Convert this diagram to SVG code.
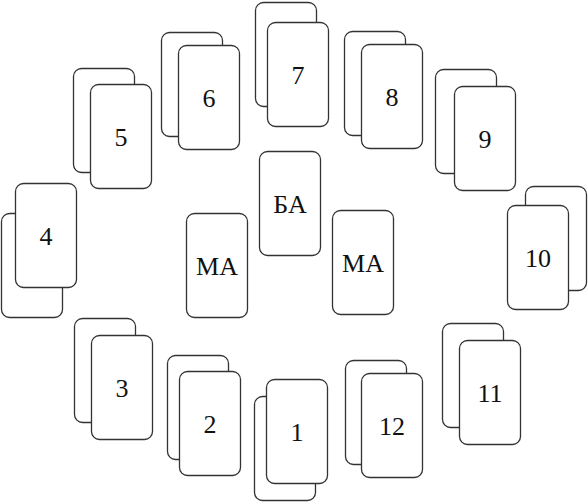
<svg xmlns="http://www.w3.org/2000/svg" width="588" height="503" viewBox="0 0 588 503">
<style>
.c{fill:#fff;stroke:#333;stroke-width:1.3}
text{font-family:'Liberation Serif','Times New Roman',serif;font-size:26px;fill:#111;text-anchor:middle}
</style>
<defs>
<rect id="card" class="c" width="61" height="104" rx="8" ry="8"/>
</defs>
<rect width="588" height="503" fill="#fff"/>
<g id="n1"><use href="#card" x="254.5" y="396.5"/><use href="#card" x="266.5" y="379.5"/><text x="297" y="441">1</text></g>
<g id="n2"><use href="#card" x="167.5" y="355.5"/><use href="#card" x="179.5" y="371.5"/><text x="210" y="433">2</text></g>
<g id="n3"><use href="#card" x="74.5" y="318.5"/><use href="#card" x="91.5" y="335.5"/><text x="122" y="397">3</text></g>
<g id="n4"><use href="#card" x="1.5" y="213.5"/><use href="#card" x="15.5" y="183.5"/><text x="46" y="245">4</text></g>
<g id="n5"><use href="#card" x="73.5" y="68.5"/><use href="#card" x="90.5" y="84.5"/><text x="121" y="146">5</text></g>
<g id="n6"><use href="#card" x="161.5" y="32.5"/><use href="#card" x="178.5" y="45.5"/><text x="209" y="107">6</text></g>
<g id="n7"><use href="#card" x="255.5" y="2.5"/><use href="#card" x="267.5" y="22.5"/><text x="298" y="84">7</text></g>
<g id="n8"><use href="#card" x="344.5" y="31.5"/><use href="#card" x="361.5" y="44.5"/><text x="392" y="106">8</text></g>
<g id="n9"><use href="#card" x="435.5" y="69.5"/><use href="#card" x="454.5" y="86.5"/><text x="485" y="148">9</text></g>
<g id="n10"><use href="#card" x="525.5" y="186.5"/><use href="#card" x="507.5" y="205.5"/><text x="538" y="267">10</text></g>
<g id="n11"><use href="#card" x="442.5" y="323.5"/><use href="#card" x="459.5" y="340.5"/><text x="490" y="402">11</text></g>
<g id="n12"><use href="#card" x="345.5" y="360.5"/><use href="#card" x="361.5" y="373.5"/><text x="392" y="435">12</text></g>
<g id="ba"><use href="#card" x="259.5" y="151.5"/><text x="290" y="213">БА</text></g>
<g id="ma1"><use href="#card" x="186.5" y="213.5"/><text x="217" y="275">МА</text></g>
<g id="ma2"><use href="#card" x="332.5" y="210.5"/><text x="363" y="272">МА</text></g>
<g id="connectors"></g>
</svg>
